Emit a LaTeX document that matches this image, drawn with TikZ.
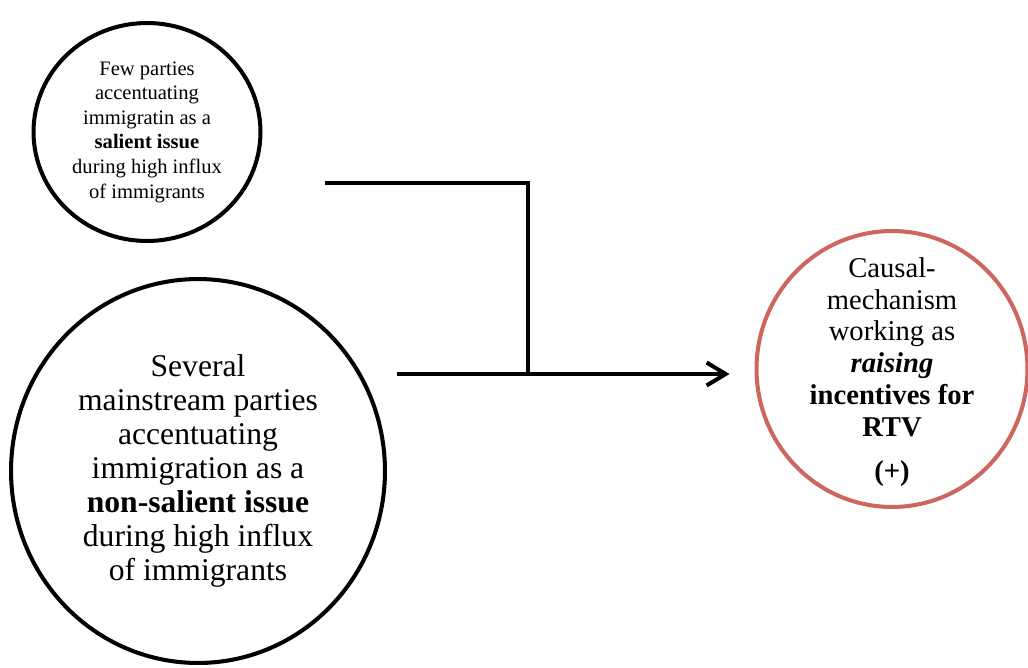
\documentclass[tikz,border=0pt]{standalone}
\usepackage{fontspec}
\setmainfont{Liberation Serif}
\usetikzlibrary{shapes.geometric,arrows.meta}
\definecolor{rtvred}{RGB}{205,102,95}
\tikzset{
    bubble/.style={ellipse, draw=black, line width=2.3pt, inner sep=0pt, align=center},
    smalltext/.style={font=\fontsize{11.7}{14}\selectfont},
    bigtext/.style={font=\fontsize{18}{19.4}\selectfont},
    rtvtext/.style={font=\fontsize{16.3}{18.1}\selectfont, align=center},
    link/.style={line width=2.3pt},
}

\begin{document}
\begin{tikzpicture}[x=0.02cm, y=-0.02cm]
\useasboundingbox (0,0) rectangle (1028,667);
% the three circles
\node[bubble, smalltext, minimum width=4.54cm, minimum height=4.36cm] (few) at (147,132)
    {Few parties\\accentuating\\immigratin as a\\\textbf{salient issue}\\during high influx\\of immigrants};
\node[bubble, bigtext, minimum width=7.48cm, minimum height=7.68cm] (several) at (198,471)
    {Several\\mainstream parties\\accentuating\\immigration as a\\\textbf{non-salient issue}\\during high influx\\of immigrants};
\node[bubble, draw=rtvred, minimum width=5.42cm, minimum height=5.52cm,
    label={[rtvtext, yshift=-0.06cm]center:{Causal-\\mechanism\\working as\\\textbf{\textit{raising}}\\\textbf{incentives for}\\\textbf{RTV}\\[7pt]\textbf{(+)}}}] (rtv) at (892,369) {};
% connectors
\coordinate (fewout) at (325,183);
\coordinate (sevout) at (397,374);
\coordinate (join) at (528,374);
\draw[link] (fewout) -| (join);
\draw[link, -{Straight Barb[length=0.38cm, width=0.46cm]}, shorten >=0.5cm] (sevout) -- (join) -- (join -| rtv.west);
\end{tikzpicture}
\end{document}
